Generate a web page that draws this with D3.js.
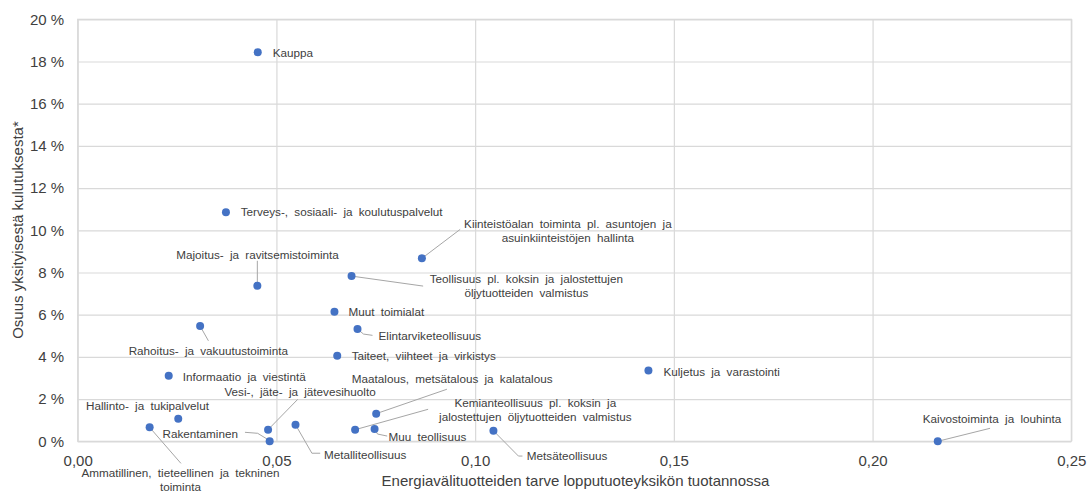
<!DOCTYPE html>
<html>
<head>
<meta charset="utf-8">
<script src="https://cdn.jsdelivr.net/npm/d3@7"></script>
<style>
  html, body { margin: 0; padding: 0; background: #fff; }
  svg { display: block; font-family: "Liberation Sans", Arial, sans-serif; }
</style>
</head>
<body>
<svg id="chart" width="1092" height="493"></svg>
<script>
// ---- Data ----
const sectors = [
  "Kauppa",
  "Terveys-, sosiaali- ja koulutuspalvelut",
  "Kiinteistöalan toiminta pl. asuntojen ja|asuinkiinteistöjen hallinta",
  "Majoitus- ja ravitsemistoiminta",
  "Teollisuus pl. koksin ja jalostettujen|öljytuotteiden valmistus",
  "Muut toimialat",
  "Elintarviketeollisuus",
  "Rahoitus- ja vakuutustoiminta",
  "Taiteet, viihteet ja virkistys",
  "Informaatio ja viestintä",
  "Kuljetus ja varastointi",
  "Hallinto- ja tukipalvelut",
  "Ammatillinen, tieteellinen ja tekninen|toiminta",
  "Vesi-, jäte- ja jätevesihuolto",
  "Rakentaminen",
  "Metalliteollisuus",
  "Maatalous, metsätalous ja kalatalous",
  "Kemianteollisuus pl. koksin ja|jalostettujen öljytuotteiden valmistus",
  "Muu teollisuus",
  "Metsäteollisuus",
  "Kaivostoiminta ja louhinta"
];
// Energy intermediate demand per unit of final product
const energyDemand = [0.0453, 0.0373, 0.0866, 0.0452, 0.0689, 0.0646, 0.0704, 0.0308, 0.0653, 0.0229,
                      0.1436, 0.0253, 0.0181, 0.0479, 0.0483, 0.0548, 0.0751, 0.0698, 0.0747, 0.1046, 0.2164];
// Share of private consumption (%)
const consumptionShare = [18.44, 10.85, 8.67, 7.37, 7.83, 6.14, 5.32, 5.46, 4.06, 3.11,
                          3.35, 1.07, 0.66, 0.55, 0.0, 0.79, 1.31, 0.55, 0.58, 0.50, 0.0];
const xTicks = [0, 0.05, 0.10, 0.15, 0.20, 0.25];
const yTicks = [0, 2, 4, 6, 8, 10, 12, 14, 16, 18, 20];
const xTitle = "Energiavälituotteiden tarve lopputuoteyksikön tuotannossa";
const yTitle = "Osuus yksityisestä kulutuksesta*";

// ---- Label layout (pixel offsets from each point) ----
// [anchor, dx, dy(first line), leader polyline offsets]
const labelLayout = [
  ["start", 15, 1, null],
  ["start", 14.7, 0, null],
  ["middle", 146, -34.3, [[38.3, -29]]],
  ["middle", 0.2, -30.7, [[0, -5.7], [0, -25]]],
  ["middle", 174.8, 3.3, [[71.6, 10]]],
  ["start", 14, 0.6, null],
  ["start", 21, 7, [[6, 5], [15, 6.3]]],
  ["middle", 8.2, 25.2, [[8.3, 14.7]]],
  ["start", 14.4, 0, null],
  ["start", 14, 1, null],
  ["start", 15, 1, null],
  ["middle", -30.8, -13, null],
  ["middle", 30.8, 46, [[31.3, 36]]],
  ["middle", 32, -38, [[29.7, -30.4]]],
  ["middle", -69.4, -7.3, [[-1, -1.3], [-12, -8], [-24.7, -9]]],
  ["middle", 69.7, 30.6, [[16.4, 28.6], [24.7, 28.6]]],
  ["middle", 76, -34.7, [[70.7, -24.4]]],
  ["middle", 180.2, -27, [[73, -20.4]]],
  ["middle", 52.8, 7.7, [[3, 5], [12.6, 7]]],
  ["middle", 73.7, 25.3, [[25, 25.3], [29, 25.3]]],
  ["middle", 54.3, -22.3, [[52.3, -13]]]
];

const svg = d3.select("#chart");
const plotLeft = 77.7, plotRight = 1071.3, plotTop = 19.3, plotBottom = 441.3;
const x = d3.scaleLinear().domain([0, 0.25]).range([plotLeft, plotRight]);
const y = d3.scaleLinear().domain([0, 20]).range([plotBottom, plotTop]);

const gridColor = "#d9d9d9";
const textColor = "#404040";

// Grid
svg.append("g")
  .attr("transform", `translate(0,${plotBottom})`)
  .call(d3.axisBottom(x).tickValues(xTicks).tickSize(-(plotBottom - plotTop)).tickFormat(""))
  .call(g => g.select(".domain").remove())
  .call(g => g.selectAll("line").attr("stroke", gridColor).attr("stroke-width", 1.2));
svg.append("g")
  .attr("transform", `translate(${plotLeft},0)`)
  .call(d3.axisLeft(y).tickValues(yTicks).tickSize(-(plotRight - plotLeft)).tickFormat(""))
  .call(g => g.select(".domain").remove())
  .call(g => g.selectAll("line").attr("stroke", gridColor).attr("stroke-width", 1.2));

// Box
svg.append("rect")
  .attr("x", plotLeft).attr("y", plotTop).attr("width", plotRight - plotLeft).attr("height", plotBottom - plotTop)
  .attr("fill", "none").attr("stroke", gridColor).attr("stroke-width", 1.2);

// Tick labels
const xAxis = svg.append("g")
  .attr("transform", `translate(0,${plotBottom})`)
  .call(d3.axisBottom(x).tickValues(xTicks).tickSize(0).tickPadding(14)
    .tickFormat(d => d3.format(".2f")(d).replace(".", ",")));
xAxis.select(".domain").remove();
xAxis.selectAll("text").attr("fill", textColor).attr("font-size", "15px")
  .attr("font-family", "Liberation Sans, Arial, sans-serif");

const yAxis = svg.append("g")
  .attr("transform", `translate(${plotLeft},0)`)
  .call(d3.axisLeft(y).tickValues(yTicks).tickSize(0).tickPadding(13.5)
    .tickFormat(d => d + " %"));
yAxis.select(".domain").remove();
yAxis.selectAll("text").attr("fill", textColor).attr("font-size", "15px")
  .attr("font-family", "Liberation Sans, Arial, sans-serif");

// Axis titles
svg.append("text")
  .attr("x", 575.5).attr("y", 480.5).attr("dy", "0.35em")
  .attr("text-anchor", "middle").attr("font-size", "15px").attr("fill", textColor)
  .text(xTitle);
svg.append("text")
  .attr("transform", "translate(17.5,230) rotate(-90)")
  .attr("dy", "0.35em")
  .attr("text-anchor", "middle").attr("font-size", "15px").attr("fill", textColor)
  .text(yTitle);

// Data
const points = sectors.map((s, i) => ({
  name: s, ex: energyDemand[i], share: consumptionShare[i], layout: labelLayout[i]
}));

// Leader lines
svg.append("g").selectAll("path")
  .data(points.filter(p => p.layout[3]))
  .join("path")
  .attr("fill", "none").attr("stroke", "#a6a6a6").attr("stroke-width", 1)
  .attr("d", p => {
    const px = x(p.ex), py = y(p.share);
    const pts = [[px, py]].concat(p.layout[3].map(o => [px + o[0], py + o[1]]));
    return d3.line()(pts);
  });

// Dots
svg.append("g").selectAll("circle")
  .data(points)
  .join("circle")
  .attr("cx", p => x(p.ex)).attr("cy", p => y(p.share))
  .attr("r", 4).attr("fill", "#4472c4");

// Labels
const labels = svg.append("g").selectAll("text")
  .data(points)
  .join("text")
  .attr("font-size", "11.7px").attr("fill", textColor)
  .attr("word-spacing", "3px")
  .attr("text-anchor", p => p.layout[0])
  .attr("x", p => x(p.ex) + p.layout[1])
  .attr("y", p => y(p.share) + p.layout[2]);
labels.each(function(p) {
  const lines = p.name.split("|");
  const t = d3.select(this);
  lines.forEach((ln, k) => {
    t.append("tspan")
      .attr("x", x(p.ex) + p.layout[1])
      .attr("dy", k === 0 ? "0.35em" : "14px")
      .text(ln);
  });
});
</script>
</body>
</html>
